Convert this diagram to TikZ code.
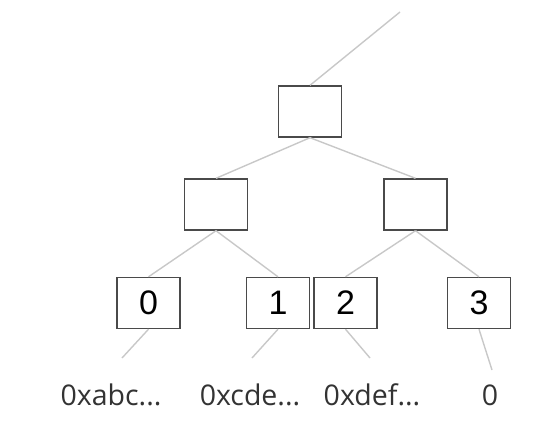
\documentclass[tikz,border=0pt]{standalone}
\usepackage{fontspec}
\setmainfont{Open Sans}
\newfontfamily\digitfont{Liberation Sans}
\definecolor{boxgray}{HTML}{4A4A4A}
\definecolor{linegray}{HTML}{C8C8C8}
\begin{document}
\begin{tikzpicture}[x=1pt,y=-1pt,
  box/.style={draw=boxgray, line width=1.4pt, minimum width=63pt, minimum height=51pt, inner sep=0pt, font=\digitfont\fontsize{34}{34}\selectfont},
  edge/.style={draw=linegray, line width=1.4pt},
  leaf/.style={font=\fontsize{28.5}{28.5}\selectfont, text=black!80, inner sep=0pt}]
  \useasboundingbox (0,0) rectangle (557,432);

  % Tree boxes
  \node[box] (root) at (310,111.5) {};
  \node[box] (left) at (216,204.5) {};
  \node[box] (right) at (415.5,204.5) {};
  \node[box] (n0) at (148.5,303) {0};
  \node[box] (n1) at (278,303) {1};
  \node[box] (n2) at (345.5,303) {2};
  \node[box] (n3) at (479,303) {3};

  % Values
  \node[leaf] (v0) at (111,395) {0xabc...};
  \node[leaf] (v1) at (250,395) {0xcde...};
  \node[leaf] (v2) at (372,395) {0xdef...};
  \node[leaf] (v3) at (490,395) {0};

  % Free ends
  \coordinate (top) at (400,12);
  \coordinate (e0) at (122,358);
  \coordinate (e1) at (252,358);
  \coordinate (e2) at (370,358);
  \coordinate (e3) at (492,370);

  % Edges
  \draw[edge] (root.north) -- (top);
  \draw[edge] (root.south) -- (left.north);
  \draw[edge] (root.south) -- (right.north);
  \draw[edge] (left.south) -- (n0.north);
  \draw[edge] (left.south) -- (n1.north);
  \draw[edge] (right.south) -- (n2.north);
  \draw[edge] (right.south) -- (n3.north);
  \draw[edge] (n0.south) -- (e0);
  \draw[edge] (n1.south) -- (e1);
  \draw[edge] (n2.south) -- (e2);
  \draw[edge] (n3.south) -- (e3);
\end{tikzpicture}
\end{document}
